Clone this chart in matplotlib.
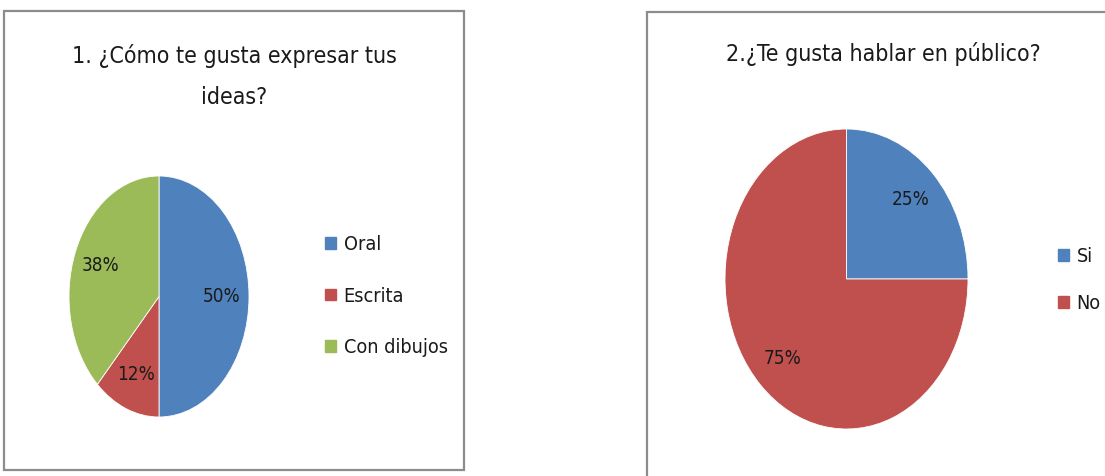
import matplotlib
matplotlib.use("Agg")
import matplotlib.pyplot as plt
from matplotlib import font_manager
from matplotlib.patches import Rectangle, Patch

title1 = "1. ¿Cómo te gusta expresar tus\nideas?"
labels1 = ["Oral", "Escrita", "Con dibujos"]
values1 = [50, 12, 38]

title2 = "2.¿Te gusta hablar en público?"
labels2 = ["Si", "No"]
values2 = [25, 75]

colors = ["#4F81BD", "#C0504D", "#9BBB59"]
text_color = "#1a1a1a"

# pick a narrow font if one is around, Calibri-like look
names = {f.name for f in font_manager.fontManager.ttflist}
condensed = {f.name for f in font_manager.fontManager.ttflist
             if str(f.stretch) in ("condensed", "semi-condensed", "75", "87")}
stretch = "normal"
if "Liberation Sans Narrow" in names:
    family = "Liberation Sans Narrow"
elif "DejaVu Sans" in condensed:
    family, stretch = "DejaVu Sans", "condensed"
else:
    family = "Open Sans" if "Open Sans" in names else "DejaVu Sans"
plt.rcParams['font.family'] = [family, 'DejaVu Sans']
plt.rcParams['font.stretch'] = stretch

W, H = 1105, 476
fig = plt.figure(figsize=(W / 100, H / 100), dpi=100)
renderer = fig.canvas.get_renderer()


def fit_size(s, target_px):
    t = fig.text(0, 0, s, fontsize=10)
    w = t.get_window_extent(renderer).width
    t.remove()
    return 10 * target_px / w


def px_axes(x0, y0, x1, y1):
    return fig.add_axes([x0 / W, 1 - y1 / H, (x1 - x0) / W, (y1 - y0) / H])


title_fs = fit_size("1. ¿Cómo te gusta expresar tus", 325)
legend_fs = fit_size("Con dibujos", 104)
pct_fs = fit_size("50%", 38)

# panel borders
for (x0, y0, x1, y1) in [(4, 11, 464, 470), (647, 12, 1110, 480)]:
    fig.patches.append(Rectangle((x0 / W, 1 - y1 / H), (x1 - x0) / W, (y1 - y0) / H,
                                 transform=fig.transFigure, fill=False,
                                 edgecolor="#8c8c8c", linewidth=1.6))

# left pie
ax1 = px_axes(69, 176, 249, 417)
ax1.pie(values1, colors=colors[:3], startangle=90, counterclock=False,
        autopct='%.0f%%', pctdistance=0.7,
        wedgeprops=dict(edgecolor="white", linewidth=0.6),
        textprops=dict(fontsize=pct_fs, color=text_color))
ax1.set_aspect('auto')
ax1.set_xlim(-1, 1)
ax1.set_ylim(-1, 1)
ax1.axis('off')
fig.text(234 / W, 1 - 77 / H, title1, ha='center', va='center', fontsize=title_fs,
         color=text_color, linespacing=2.0)

fpx = legend_fs * 100 / 72
spacing = (57.5 - 1.25 * fpx) / fpx
fig.legend(handles=[Patch(color=c, label=l) for c, l in zip(colors, labels1)],
           loc='center left', bbox_to_anchor=(311 / W, 1 - 296 / H), frameon=False,
           fontsize=legend_fs, labelspacing=spacing, handlelength=0.55, handleheight=0.55,
           handletextpad=0.4, labelcolor=text_color, borderpad=0.2)

# right pie
ax2 = px_axes(725, 129, 968, 429)
ax2.pie(values2, colors=colors[:2], startangle=90, counterclock=False,
        autopct='%.0f%%', pctdistance=0.75,
        wedgeprops=dict(edgecolor="white", linewidth=0.6),
        textprops=dict(fontsize=pct_fs, color=text_color))
ax2.set_aspect('auto')
ax2.set_xlim(-1, 1)
ax2.set_ylim(-1, 1)
ax2.axis('off')
fig.text(883 / W, 1 - 54 / H, title2, ha='center', va='center', fontsize=title_fs,
         color=text_color)

spacing2 = (52 - 1.25 * fpx) / fpx
fig.legend(handles=[Patch(color=c, label=l) for c, l in zip(colors, labels2)],
           loc='center left', bbox_to_anchor=(1044 / W, 1 - 280 / H), frameon=False,
           fontsize=legend_fs, labelspacing=spacing2, handlelength=0.55, handleheight=0.55,
           handletextpad=0.4, labelcolor=text_color, borderpad=0.2)

fig.savefig("out.png", dpi=100, facecolor="white")
